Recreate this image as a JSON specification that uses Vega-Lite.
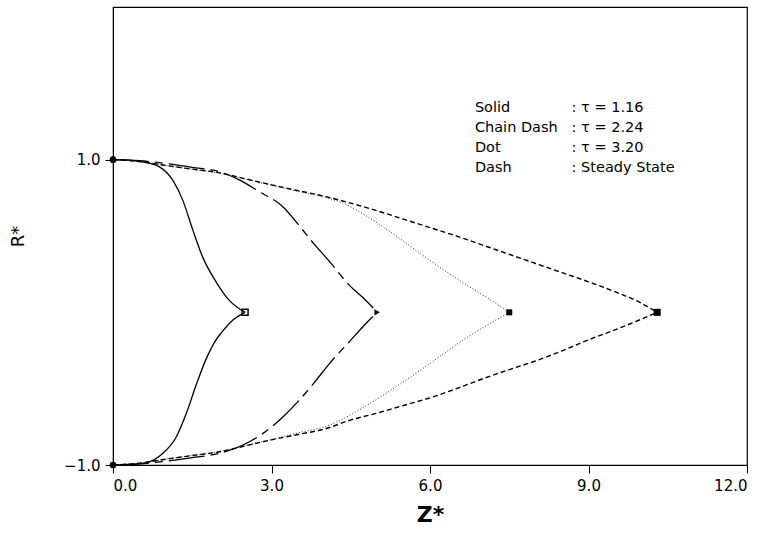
{
  "$schema": "https://vega.github.io/schema/vega-lite/v6.json",
  "width": 634,
  "height": 458,
  "autosize": {"type": "none"},
  "padding": {"left": 113, "top": 7, "right": 22, "bottom": 70},
  "background": "white",
  "config": {
    "font": "DejaVu Sans",
    "view": {"stroke": "black", "strokeWidth": 1.2},
    "axis": {
      "grid": false,
      "domainColor": "black",
      "tickColor": "black",
      "labelColor": "black",
      "titleColor": "black",
      "labelFont": "DejaVu Sans",
      "titleFont": "DejaVu Sans",
      "labelFontSize": 15,
      "tickSize": 8,
      "labelPadding": 5
    }
  },
  "datasets": {
    "curves": [
      {"s": "solid", "b": "u", "z": 0, "r": 1},
      {"s": "solid", "b": "u", "z": 0.3, "r": 0.997},
      {"s": "solid", "b": "u", "z": 0.56, "r": 0.986},
      {"s": "solid", "b": "u", "z": 0.88, "r": 0.953},
      {"s": "solid", "b": "u", "z": 1.13, "r": 0.866},
      {"s": "solid", "b": "u", "z": 1.32, "r": 0.735},
      {"s": "solid", "b": "u", "z": 1.51, "r": 0.54},
      {"s": "solid", "b": "u", "z": 1.7, "r": 0.36},
      {"s": "solid", "b": "u", "z": 1.95, "r": 0.2},
      {"s": "solid", "b": "u", "z": 2.21, "r": 0.075},
      {"s": "solid", "b": "u", "z": 2.5, "r": 0},
      {"s": "solid", "b": "l", "z": 0, "r": -1},
      {"s": "solid", "b": "l", "z": 0.3, "r": -0.998},
      {"s": "solid", "b": "l", "z": 0.63, "r": -0.985},
      {"s": "solid", "b": "l", "z": 0.94, "r": -0.925},
      {"s": "solid", "b": "l", "z": 1.2, "r": -0.815},
      {"s": "solid", "b": "l", "z": 1.39, "r": -0.66},
      {"s": "solid", "b": "l", "z": 1.58, "r": -0.47},
      {"s": "solid", "b": "l", "z": 1.77, "r": -0.3},
      {"s": "solid", "b": "l", "z": 1.95, "r": -0.18},
      {"s": "solid", "b": "l", "z": 2.06, "r": -0.13},
      {"s": "solid", "b": "l", "z": 2.27, "r": -0.05},
      {"s": "solid", "b": "l", "z": 2.5, "r": 0},

      {"s": "chain", "b": "u", "z": 0, "r": 1},
      {"s": "chain", "b": "u", "z": 0.5, "r": 0.993},
      {"s": "chain", "b": "u", "z": 1, "r": 0.975},
      {"s": "chain", "b": "u", "z": 1.5, "r": 0.95},
      {"s": "chain", "b": "u", "z": 2.02, "r": 0.92},
      {"s": "chain", "b": "u", "z": 2.4, "r": 0.866},
      {"s": "chain", "b": "u", "z": 2.77, "r": 0.79},
      {"s": "chain", "b": "u", "z": 3.22, "r": 0.69},
      {"s": "chain", "b": "u", "z": 3.53, "r": 0.565},
      {"s": "chain", "b": "u", "z": 3.8, "r": 0.45},
      {"s": "chain", "b": "u", "z": 4.1, "r": 0.332},
      {"s": "chain", "b": "u", "z": 4.48, "r": 0.175},
      {"s": "chain", "b": "u", "z": 4.73, "r": 0.097},
      {"s": "chain", "b": "u", "z": 5.0, "r": 0},
      {"s": "chain", "b": "l", "z": 0, "r": -1},
      {"s": "chain", "b": "l", "z": 0.5, "r": -0.993},
      {"s": "chain", "b": "l", "z": 1, "r": -0.975},
      {"s": "chain", "b": "l", "z": 1.5, "r": -0.952},
      {"s": "chain", "b": "l", "z": 2.02, "r": -0.923},
      {"s": "chain", "b": "l", "z": 2.46, "r": -0.869},
      {"s": "chain", "b": "l", "z": 2.84, "r": -0.793},
      {"s": "chain", "b": "l", "z": 3.22, "r": -0.684},
      {"s": "chain", "b": "l", "z": 3.53, "r": -0.574},
      {"s": "chain", "b": "l", "z": 3.85, "r": -0.443},
      {"s": "chain", "b": "l", "z": 4.1, "r": -0.334},
      {"s": "chain", "b": "l", "z": 4.48, "r": -0.19},
      {"s": "chain", "b": "l", "z": 4.73, "r": -0.094},
      {"s": "chain", "b": "l", "z": 5.0, "r": 0},

      {"s": "dot", "b": "u", "z": 0, "r": 1},
      {"s": "dot", "b": "u", "z": 0.5, "r": 0.988},
      {"s": "dot", "b": "u", "z": 1, "r": 0.962},
      {"s": "dot", "b": "u", "z": 1.5, "r": 0.937},
      {"s": "dot", "b": "u", "z": 2, "r": 0.912},
      {"s": "dot", "b": "u", "z": 2.5, "r": 0.873},
      {"s": "dot", "b": "u", "z": 3, "r": 0.833},
      {"s": "dot", "b": "u", "z": 3.5, "r": 0.793},
      {"s": "dot", "b": "u", "z": 4.1, "r": 0.745},
      {"s": "dot", "b": "u", "z": 4.42, "r": 0.705},
      {"s": "dot", "b": "u", "z": 4.73, "r": 0.645},
      {"s": "dot", "b": "u", "z": 5.36, "r": 0.5},
      {"s": "dot", "b": "u", "z": 6.0, "r": 0.34},
      {"s": "dot", "b": "u", "z": 6.62, "r": 0.195},
      {"s": "dot", "b": "u", "z": 7.13, "r": 0.085},
      {"s": "dot", "b": "u", "z": 7.5, "r": 0},
      {"s": "dot", "b": "l", "z": 0, "r": -1},
      {"s": "dot", "b": "l", "z": 0.5, "r": -0.988},
      {"s": "dot", "b": "l", "z": 1, "r": -0.962},
      {"s": "dot", "b": "l", "z": 1.5, "r": -0.937},
      {"s": "dot", "b": "l", "z": 2, "r": -0.912},
      {"s": "dot", "b": "l", "z": 2.5, "r": -0.873},
      {"s": "dot", "b": "l", "z": 3, "r": -0.833},
      {"s": "dot", "b": "l", "z": 3.5, "r": -0.79},
      {"s": "dot", "b": "l", "z": 4.1, "r": -0.738},
      {"s": "dot", "b": "l", "z": 4.73, "r": -0.625},
      {"s": "dot", "b": "l", "z": 5.36, "r": -0.487},
      {"s": "dot", "b": "l", "z": 6.0, "r": -0.335},
      {"s": "dot", "b": "l", "z": 6.62, "r": -0.183},
      {"s": "dot", "b": "l", "z": 7.13, "r": -0.074},
      {"s": "dot", "b": "l", "z": 7.5, "r": 0},

      {"s": "dash", "b": "u", "z": 0, "r": 1},
      {"s": "dash", "b": "u", "z": 0.5, "r": 0.988},
      {"s": "dash", "b": "u", "z": 1, "r": 0.962},
      {"s": "dash", "b": "u", "z": 1.5, "r": 0.938},
      {"s": "dash", "b": "u", "z": 2, "r": 0.915},
      {"s": "dash", "b": "u", "z": 2.5, "r": 0.875},
      {"s": "dash", "b": "u", "z": 3, "r": 0.835},
      {"s": "dash", "b": "u", "z": 3.5, "r": 0.797},
      {"s": "dash", "b": "u", "z": 4, "r": 0.76},
      {"s": "dash", "b": "u", "z": 4.5, "r": 0.715},
      {"s": "dash", "b": "u", "z": 5, "r": 0.665},
      {"s": "dash", "b": "u", "z": 5.5, "r": 0.61},
      {"s": "dash", "b": "u", "z": 6, "r": 0.555},
      {"s": "dash", "b": "u", "z": 6.5, "r": 0.5},
      {"s": "dash", "b": "u", "z": 7, "r": 0.44},
      {"s": "dash", "b": "u", "z": 7.5, "r": 0.38},
      {"s": "dash", "b": "u", "z": 8, "r": 0.32},
      {"s": "dash", "b": "u", "z": 8.5, "r": 0.26},
      {"s": "dash", "b": "u", "z": 9, "r": 0.2},
      {"s": "dash", "b": "u", "z": 9.5, "r": 0.135},
      {"s": "dash", "b": "u", "z": 10, "r": 0.06},
      {"s": "dash", "b": "u", "z": 10.3, "r": 0},
      {"s": "dash", "b": "l", "z": 0, "r": -1},
      {"s": "dash", "b": "l", "z": 0.5, "r": -0.988},
      {"s": "dash", "b": "l", "z": 1, "r": -0.962},
      {"s": "dash", "b": "l", "z": 1.5, "r": -0.938},
      {"s": "dash", "b": "l", "z": 2, "r": -0.915},
      {"s": "dash", "b": "l", "z": 2.5, "r": -0.875},
      {"s": "dash", "b": "l", "z": 3, "r": -0.835},
      {"s": "dash", "b": "l", "z": 3.5, "r": -0.8},
      {"s": "dash", "b": "l", "z": 4, "r": -0.765},
      {"s": "dash", "b": "l", "z": 4.5, "r": -0.705},
      {"s": "dash", "b": "l", "z": 5, "r": -0.66},
      {"s": "dash", "b": "l", "z": 5.5, "r": -0.61},
      {"s": "dash", "b": "l", "z": 6, "r": -0.56},
      {"s": "dash", "b": "l", "z": 6.5, "r": -0.5},
      {"s": "dash", "b": "l", "z": 7, "r": -0.435},
      {"s": "dash", "b": "l", "z": 7.5, "r": -0.375},
      {"s": "dash", "b": "l", "z": 8, "r": -0.318},
      {"s": "dash", "b": "l", "z": 8.5, "r": -0.252},
      {"s": "dash", "b": "l", "z": 9, "r": -0.18},
      {"s": "dash", "b": "l", "z": 9.5, "r": -0.115},
      {"s": "dash", "b": "l", "z": 10, "r": -0.045},
      {"s": "dash", "b": "l", "z": 10.3, "r": 0}
    ],
    "markers": [
      {"m": "circle", "z": 0, "r": 1},
      {"m": "circle", "z": 0, "r": -1},
      {"m": "osq", "z": 2.5, "r": 0},
      {"m": "tri", "z": 5.0, "r": 0},
      {"m": "sq", "z": 7.5, "r": 0},
      {"m": "bsq", "z": 10.3, "r": 0}
    ],
    "legend": [
      {"z": 6.85, "r": 1.338, "t": "Solid"},
      {"z": 6.85, "r": 1.207, "t": "Chain Dash"},
      {"z": 6.85, "r": 1.076, "t": "Dot"},
      {"z": 6.85, "r": 0.945, "t": "Dash"},
      {"z": 8.68, "r": 1.338, "t": ": τ = 1.16"},
      {"z": 8.68, "r": 1.207, "t": ": τ = 2.24"},
      {"z": 8.68, "r": 1.076, "t": ": τ = 3.20"},
      {"z": 8.68, "r": 0.945, "t": ": Steady State"}
    ]
  },
  "encoding": {
    "x": {
      "field": "z", "type": "quantitative",
      "scale": {"domain": [0, 12], "nice": false, "zero": false},
      "axis": {"values": [0, 3, 6, 9, 12], "format": ".1f", "title": "Z*", "titleFontSize": 22, "titleFontWeight": "bold", "titlePadding": 11}
    },
    "y": {
      "field": "r", "type": "quantitative",
      "scale": {"domain": [-1, 2], "nice": false, "zero": false},
      "axis": {"values": [-1, 1], "format": ".1f", "title": "R*", "titleFontSize": 18, "titleFontWeight": "normal", "titlePadding": 36}
    }
  },
  "layer": [
    {
      "data": {"name": "curves"},
      "transform": [{"filter": "datum.s === 'solid'"}],
      "mark": {"type": "line", "color": "black", "strokeWidth": 1.3, "interpolate": "monotone"},
      "encoding": {"detail": {"field": "b"}}
    },
    {
      "data": {"name": "curves"},
      "transform": [{"filter": "datum.s === 'chain'"}],
      "mark": {"type": "line", "color": "black", "strokeWidth": 1.3, "interpolate": "monotone", "strokeDash": [36, 6, 8, 6]},
      "encoding": {"detail": {"field": "b"}}
    },
    {
      "data": {"name": "curves"},
      "transform": [{"filter": "datum.s === 'dot'"}],
      "mark": {"type": "line", "color": "#333", "strokeWidth": 1, "interpolate": "monotone", "strokeDash": [1, 2]},
      "encoding": {"detail": {"field": "b"}}
    },
    {
      "data": {"name": "curves"},
      "transform": [{"filter": "datum.s === 'dash'"}],
      "mark": {"type": "line", "color": "black", "strokeWidth": 1.4, "interpolate": "monotone", "strokeDash": [5, 3]},
      "encoding": {"detail": {"field": "b"}}
    },
    {
      "data": {"name": "markers"},
      "transform": [{"filter": "datum.m === 'circle'"}],
      "mark": {"type": "point", "shape": "circle", "filled": true, "color": "black", "size": 45, "opacity": 1}
    },
    {
      "data": {"name": "markers"},
      "transform": [{"filter": "datum.m === 'osq'"}],
      "mark": {"type": "point", "shape": "square", "filled": false, "color": "black", "size": 36, "strokeWidth": 1.5, "opacity": 1}
    },
    {
      "data": {"name": "markers"},
      "transform": [{"filter": "datum.m === 'tri'"}],
      "mark": {"type": "point", "shape": "triangle-right", "filled": true, "color": "black", "size": 40, "opacity": 1}
    },
    {
      "data": {"name": "markers"},
      "transform": [{"filter": "datum.m === 'sq'"}],
      "mark": {"type": "point", "shape": "square", "filled": true, "color": "black", "size": 36, "opacity": 1}
    },
    {
      "data": {"name": "markers"},
      "transform": [{"filter": "datum.m === 'bsq'"}],
      "mark": {"type": "point", "shape": "square", "filled": true, "color": "black", "size": 50, "opacity": 1}
    },
    {
      "data": {"name": "legend"},
      "mark": {"type": "text", "align": "left", "baseline": "middle", "fontSize": 14.5, "color": "black", "font": "DejaVu Sans"},
      "encoding": {"text": {"field": "t"}}
    }
  ]
}
